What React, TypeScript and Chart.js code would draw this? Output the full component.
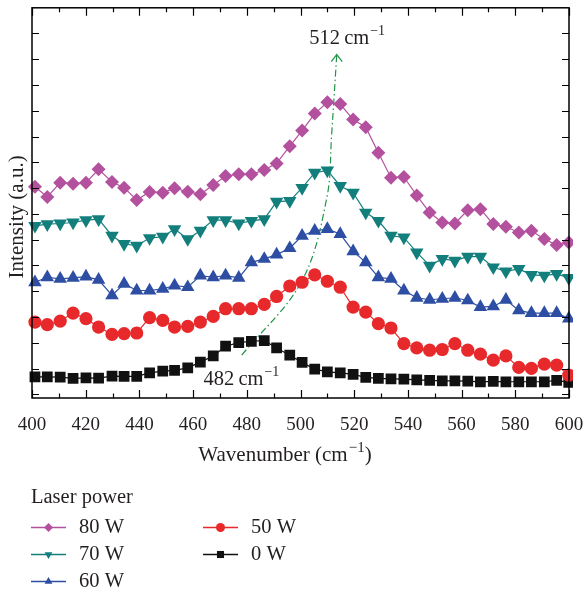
import React, { useEffect, useRef } from 'react';
import { Chart, registerables } from 'chart.js';

Chart.register(...registerables);

// ---------- data ----------
const WAVENUMBER = [
  401.1, 405.7, 410.5, 415.3, 420.1, 424.8, 429.8, 434.3, 439.0, 443.8, 448.7,
  453.1, 458.0, 462.7, 467.5, 472.1, 477.0, 481.7, 486.5, 491.1, 496.0, 500.6,
  505.3, 510.0, 514.8, 519.6, 524.3, 529.0, 533.7, 538.5, 543.3, 548.1, 552.8,
  557.5, 562.3, 567.0, 571.8, 576.5, 581.3, 586.0, 590.8, 595.4, 599.9,
];

const I_80W = [
  212.3, 202, 216.3, 215.3, 216.3, 229.7, 217, 211.3, 199, 207, 206.3, 210.7,
  207.3, 204.7, 214, 223, 224.7, 224.7, 229, 235.7, 253, 268.7, 285.7, 297,
  295.3, 279.7, 272, 246.3, 221.3, 222, 203.5, 186.3, 176.3, 175.3, 188.7,
  189.7, 174.7, 172, 166.3, 168, 159.7, 153.7, 156.3,
];
const I_70W = [
  173, 174.7, 175.3, 176.3, 178.7, 179.7, 163, 154.7, 153, 160.7, 162, 169.7,
  159.7, 168, 178.7, 178.7, 175.3, 178, 179.7, 197.3, 198, 211, 226.3, 228.7,
  213, 206.3, 186.3, 178, 163, 161.3, 146.3, 133, 139.7, 138, 142, 142, 131.3,
  127.3, 129.7, 123.7, 123, 124.7, 120.7,
];
const I_60W = [
  116.3, 121.3, 119.7, 120.7, 122, 118.7, 103, 114.7, 108, 108, 109.7, 113,
  111.3, 123, 121.3, 123, 120.7, 136.3, 139.7, 144, 150.5, 163, 168, 169.7,
  164.7, 147.3, 136.3, 121.3, 119.7, 108, 100.7, 98.7, 99.7, 100.7, 98, 91.3,
  92, 98.7, 88, 85.3, 85.3, 85.3, 79.7,
];
const I_50W = [
  76.3, 73.7, 77.3, 85.3, 79.7, 71.3, 64, 64.7, 65.3, 80.7, 78, 71.3, 72, 76.3,
  82, 89.7, 89.7, 89.7, 94, 102, 112.5, 116.3, 123.7, 117.3, 111.3, 91.3, 86.3,
  74.7, 70.3, 54.7, 50.3, 48, 48.7, 54.7, 48, 44, 38, 42.3, 30.7, 29.7, 34, 33,
  23,
];
const I_0W = [
  21.3, 21.3, 21, 19.7, 20.3, 20, 22, 21.7, 21.7, 25.3, 27, 27.7, 30.3, 36,
  42.3, 52, 55.7, 57, 57.7, 50.3, 43, 35.7, 29, 26.3, 25.3, 23.7, 20.7, 19.7,
  19.3, 19, 18.3, 17.7, 17.3, 17.3, 17, 16.3, 16.7, 16.3, 16.3, 16.3, 16.3,
  17.7, 15.7,
];

// peak-shift guide line (dash-dot) from 482 to 512 cm-1
const TREND_X = [478.1, 500.4, 509.8, 511.6, 513.5];
const TREND_Y = [43, 117, 201, 265, 345];

const SERIES_LABELS = ['80 W', '70 W', '60 W', '50 W', '0 W'];
const X_MIN = 400;
const X_MAX = 600;
const X_STEP = 20;
const X_MINOR_STEP = 10;
const Y_MIN = 0;
const Y_MAX = 392;
const Y_TICKS = [3.7, 29.6, 55.5, 81.4, 107.3, 133.2, 159.1, 185, 210.9, 236.8, 262.7, 288.6, 314.5, 340.4, 366.3];

const LEGEND_TITLE = 'Laser power';
const X_TITLE = 'Wavenumber (cm';
const Y_TITLE = 'Intensity (a.u.)';
const PEAK_LABEL_HIGH = '512';
const PEAK_LABEL_LOW = '482';

// ---------- styles ----------
const FONT = "'Liberation Serif', 'DejaVu Serif', serif";
const TEXT_COLOR = '#231f20';
const SERIES_STYLE = [
  { color: '#b4519f', style: 'rectRot', rotation: 0, radius: 7 },
  { color: '#137f7c', style: 'triangle', rotation: 180, radius: 7.8 },
  { color: '#2d4ea3', style: 'triangle', rotation: 0, radius: 7.8 },
  { color: '#e8292b', style: 'circle', rotation: 0, radius: 6.6 },
  { color: '#111111', style: 'rect', rotation: 0, radius: 7.6 },
];
const SERIES_DATA = [I_80W, I_70W, I_60W, I_50W, I_0W];
const TREND_COLOR = '#23944a';

function drawMarker(ctx: CanvasRenderingContext2D, style: string, rotation: number, x: number, y: number, r: number) {
  ctx.beginPath();
  if (style === 'circle') {
    ctx.arc(x, y, r, 0, Math.PI * 2);
  } else if (style === 'rect') {
    const s = r * Math.SQRT1_2;
    ctx.rect(x - s, y - s, 2 * s, 2 * s);
  } else if (style === 'rectRot') {
    ctx.moveTo(x, y - r);
    ctx.lineTo(x + r, y);
    ctx.lineTo(x, y + r);
    ctx.lineTo(x - r, y);
    ctx.closePath();
  } else if (style === 'triangle') {
    let a = (rotation * Math.PI) / 180;
    ctx.moveTo(x + Math.sin(a) * r, y - Math.cos(a) * r);
    a += (2 * Math.PI) / 3;
    ctx.lineTo(x + Math.sin(a) * r, y - Math.cos(a) * r);
    a += (2 * Math.PI) / 3;
    ctx.lineTo(x + Math.sin(a) * r, y - Math.cos(a) * r);
    ctx.closePath();
  }
  ctx.fill();
}

function drawWithSup(ctx: CanvasRenderingContext2D, base: string, sup: string, tail: string, x: number, y: number, size: number, align: 'left' | 'center') {
  ctx.font = `${size}px ${FONT}`;
  const supSize = Math.round(size * 0.7);
  const wBase = ctx.measureText(base).width;
  ctx.font = `${supSize}px ${FONT}`;
  const wSup = ctx.measureText(sup).width;
  ctx.font = `${size}px ${FONT}`;
  const wTail = ctx.measureText(tail).width;
  const total = wBase + wSup + wTail + 1;
  let sx = align === 'center' ? x - total / 2 : x;
  ctx.textAlign = 'left';
  ctx.textBaseline = 'alphabetic';
  ctx.fillText(base, sx, y);
  sx += wBase + 1;
  ctx.font = `${supSize}px ${FONT}`;
  ctx.fillText(sup, sx, y - size * 0.42);
  sx += wSup;
  ctx.font = `${size}px ${FONT}`;
  ctx.fillText(tail, sx, y);
}

const decorPlugin = {
  id: 'decor',
  afterDraw(chart: any) {
    const { ctx, chartArea } = chart;
    const { left, right, top, bottom } = chartArea;
    const xs = chart.scales.x;
    const ys = chart.scales.y;
    ctx.save();
    // frame
    ctx.strokeStyle = '#000';
    ctx.lineWidth = 1.5;
    ctx.strokeRect(left, top, right - left, bottom - top);
    // ticks pointing inward on all four sides
    ctx.lineWidth = 1.2;
    ctx.beginPath();
    for (let v = X_MIN; v <= X_MAX; v += X_MINOR_STEP) {
      const px = Math.round(xs.getPixelForValue(v)) + 0.5;
      const len = v % X_STEP === 0 ? 8 : 4.5;
      ctx.moveTo(px, bottom);
      ctx.lineTo(px, bottom - len);
      ctx.moveTo(px, top);
      ctx.lineTo(px, top + len);
    }
    for (const v of Y_TICKS) {
      const py = Math.round(ys.getPixelForValue(v)) + 0.5;
      ctx.moveTo(left, py);
      ctx.lineTo(left + 7, py);
      ctx.moveTo(right, py);
      ctx.lineTo(right - 7, py);
    }
    ctx.stroke();

    // arrow head at the trend tip
    const tipX = xs.getPixelForValue(TREND_X[TREND_X.length - 1]);
    const tipY = ys.getPixelForValue(TREND_Y[TREND_Y.length - 1]);
    ctx.strokeStyle = TREND_COLOR;
    ctx.lineWidth = 1.2;
    ctx.beginPath();
    ctx.moveTo(tipX - 5.5, tipY + 7);
    ctx.lineTo(tipX, tipY);
    ctx.lineTo(tipX + 5.5, tipY + 7);
    ctx.stroke();

    ctx.fillStyle = TEXT_COLOR;
    // peak labels
    drawWithSup(ctx, PEAK_LABEL_HIGH + '\u2009cm', '\u22121', '', xs.getPixelForValue(517.4), ys.getPixelForValue(355.7), 20.5, 'center');
    drawWithSup(ctx, PEAK_LABEL_LOW + '\u2009cm', '\u22121', '', xs.getPixelForValue(478.0), ys.getPixelForValue(13), 20.5, 'center');

    // x title
    drawWithSup(ctx, X_TITLE, '\u22121', ')', left + 253, 461, 21, 'center');

    // y title
    ctx.save();
    ctx.translate(17, (top + bottom) / 2 + 14);
    ctx.rotate(-Math.PI / 2);
    ctx.font = `21px ${FONT}`;
    ctx.textAlign = 'center';
    ctx.textBaseline = 'middle';
    ctx.fillText(Y_TITLE, 0, 0);
    ctx.restore();

    // legend
    ctx.font = `20.5px ${FONT}`;
    ctx.textAlign = 'left';
    ctx.textBaseline = 'alphabetic';
    ctx.fillStyle = TEXT_COLOR;
    ctx.fillText(LEGEND_TITLE, 31, 503);
    const cols = [31, 203];
    const rows = [527, 554, 581];
    SERIES_LABELS.forEach((label, i) => {
      const col = i < 3 ? 0 : 1;
      const row = i < 3 ? i : i - 3;
      const lx = cols[col];
      const ly = rows[row];
      const st = SERIES_STYLE[i];
      ctx.strokeStyle = st.color;
      ctx.lineWidth = 1.5;
      ctx.beginPath();
      ctx.moveTo(lx, ly + 0.5);
      ctx.lineTo(lx + 35, ly + 0.5);
      ctx.stroke();
      ctx.fillStyle = st.color;
      drawMarker(ctx, st.style, st.rotation, lx + 17.5, ly + 0.5, st.style === 'rect' ? 5 : 4.5);
      ctx.fillStyle = TEXT_COLOR;
      ctx.font = `20.5px ${FONT}`;
      ctx.textBaseline = 'middle';
      ctx.fillText(label, lx + 48, ly + 1);
      ctx.textBaseline = 'alphabetic';
    });
    ctx.restore();
  },
};

export default function App() {
  const ref = useRef<HTMLCanvasElement | null>(null);
  useEffect(() => {
    if (!ref.current) return;
    const datasets: any[] = SERIES_DATA.map((arr, i) => ({
      label: SERIES_LABELS[i],
      data: arr.map((v, k) => ({ x: WAVENUMBER[k], y: v })),
      showLine: true,
      borderColor: SERIES_STYLE[i].color,
      backgroundColor: SERIES_STYLE[i].color,
      borderWidth: 1.2,
      pointStyle: SERIES_STYLE[i].style,
      rotation: SERIES_STYLE[i].rotation,
      pointRadius: SERIES_STYLE[i].radius,
      pointBorderWidth: 0,
      pointHoverRadius: SERIES_STYLE[i].radius,
      tension: 0,
      clip: 4,
    }));
    datasets.push({
      label: 'trend',
      data: TREND_X.map((x, k) => ({ x, y: TREND_Y[k] })),
      showLine: true,
      borderColor: TREND_COLOR,
      borderWidth: 1.2,
      borderDash: [7, 3, 1.5, 3],
      pointRadius: 0,
      tension: 0.35,
    });
    const chart = new Chart(ref.current, {
      type: 'scatter',
      data: { datasets },
      options: {
        animation: false,
        responsive: false,
        devicePixelRatio: 1,
        layout: { padding: { left: 0, right: 14, top: 6, bottom: 0 } },
        plugins: { legend: { display: false }, tooltip: { enabled: false } },
        scales: {
          x: {
            type: 'linear',
            min: X_MIN,
            max: X_MAX,
            grid: { display: false },
            border: { display: false },
            ticks: {
              stepSize: X_STEP,
              padding: 8,
              color: TEXT_COLOR,
              font: { family: FONT, size: 19 },
              maxRotation: 0,
            },
            afterFit: (s: any) => {
              s.height = 197;
              s.paddingLeft = 0;
              s.paddingRight = 0;
            },
          },
          y: {
            type: 'linear',
            min: Y_MIN,
            max: Y_MAX,
            grid: { display: false },
            border: { display: false },
            ticks: { display: false },
            afterFit: (s: any) => {
              s.width = 32;
              s.paddingTop = 0;
              s.paddingBottom = 0;
            },
          },
        },
      },
      plugins: [decorPlugin],
    });
    return () => chart.destroy();
  }, []);
  return (
    <div style={{ position: 'fixed', left: 0, top: 0, width: 583, height: 595, background: '#fff' }}>
      <canvas ref={ref} width={583} height={595} style={{ width: 583, height: 595, display: 'block' }} />
    </div>
  );
}
